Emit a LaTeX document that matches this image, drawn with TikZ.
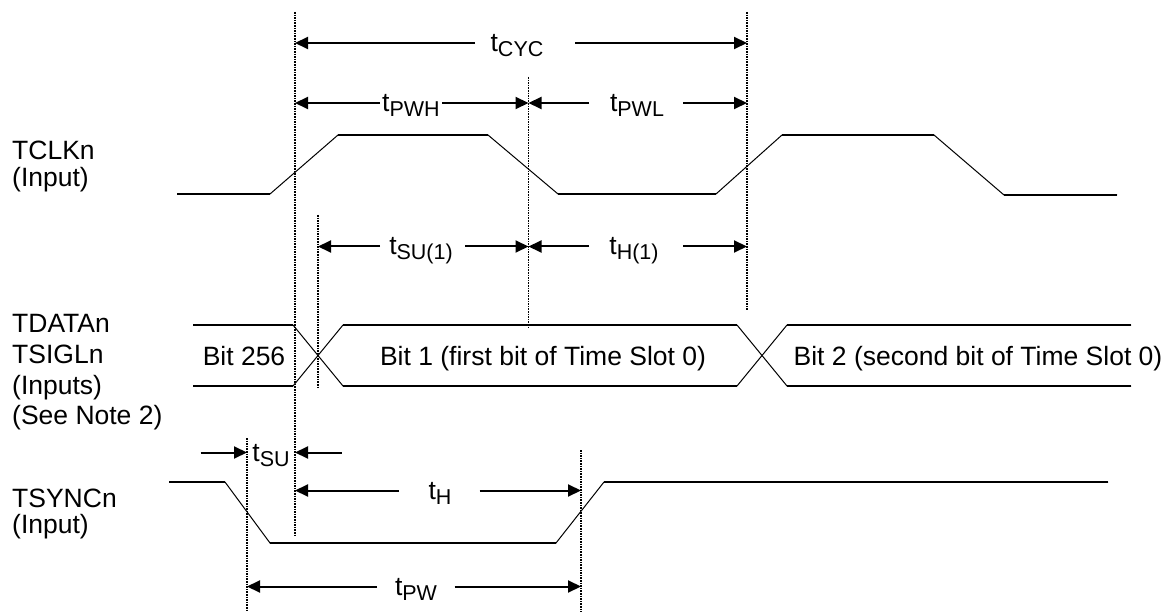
\documentclass[tikz,border=0pt]{standalone}
\usepackage{fontspec}
\setmainfont{Liberation Sans}
\usetikzlibrary{arrows.meta}
\newcommand{\tlab}[1]{t\raisebox{-5pt}{\fontsize{21.5}{22}\selectfont #1}}
\begin{document}
\begin{tikzpicture}[x=1pt,y=-1pt,
  lbl/.style={font=\fontsize{26.5}{30}\selectfont, inner sep=0pt, anchor=base west},
  txt/.style={font=\fontsize{26.5}{30}\selectfont, inner sep=0pt, anchor=base},
  guide/.style={line width=1.4pt, dash pattern=on 1.6pt off 1pt},
  sig/.style={line width=1pt, line join=miter},
  lvl/.style={line width=1.8pt},
  tip/.style={line width=2pt, -{Triangle[length=13pt,width=12pt]}}]
\useasboundingbox (0,0) rectangle (1167,612);
% guide lines
\coordinate (A1) at (295,12);   \coordinate (A2) at (295,535);
\coordinate (B1) at (528.5,77); \coordinate (B2) at (528.5,327);
\coordinate (C1) at (747,12);   \coordinate (C2) at (747,310);
\coordinate (S1) at (318,215);  \coordinate (S2) at (318,388);
\coordinate (P1) at (247,438);  \coordinate (P2) at (247,612);
\coordinate (Q1) at (581,450);  \coordinate (Q2) at (581,612);
\draw[guide] (A1) -- (A2);
\draw[guide] (B1) -- (B2);
\draw[guide] (C1) -- (C2);
\draw[guide] (S1) -- (S2);
\draw[guide] (P1) -- (P2);
\draw[guide] (Q1) -- (Q2);
% left labels
\node[lbl] (l1) at (12,160) {TCLKn};
\node[lbl] (l2) at (12,187) {(Input)};
\node[lbl] (l3) at (12,332) {TDATAn};
\node[lbl] (l4) at (12,363) {TSIGLn};
\node[lbl] (l5) at (12,394) {(Inputs)};
\node[lbl] (l6) at (12,424) {(See Note 2)};
\node[lbl] (l7) at (12,507) {TSYNCn};
\node[lbl] (l8) at (12,533) {(Input)};
% clock
\draw[sig] (177,194) -- (270,194) -- (338,135) -- (488,135) -- (558,194) -- (716,194)
  -- (782,135) -- (934,135) -- (1004,195) -- (1117,195);
\draw[lvl] (177,194) -- (270,194) (338,135) -- (488,135) (558,194) -- (716,194)
  (782,135) -- (934,135) (1004,195) -- (1117,195);
% data
\draw[sig] (193,325) -- (293,325) -- (343,386) -- (737,386) -- (787,325) -- (1131,325);
\draw[sig] (193,386) -- (293,386) -- (343,325) -- (737,325) -- (787,386) -- (1131,386);
\draw[lvl] (193,325) -- (293,325) (343,325) -- (737,325) (787,325) -- (1131,325)
  (193,386) -- (293,386) (343,386) -- (737,386) (787,386) -- (1131,386);
\node[txt] (d0) at (244,365) {Bit 256};
\node[txt] (d1) at (543,365) {Bit 1 (first bit of Time Slot 0)};
\node[txt] (d2) at (978,365) {Bit 2 (second bit of Time Slot 0)};
% tsync
\draw[sig] (169,482) -- (225,482) -- (270,543) -- (556,543) -- (604,482) -- (1108,482);
\draw[lvl] (169,482) -- (225,482) (270,543) -- (556,543) (604,482) -- (1108,482);
% tCYC
\node[txt] (tcyc) at (517,51.5) {\tlab{CYC}};
\coordinate (cycL) at (475,43); \coordinate (cycR) at (575,43);
\draw[tip] (cycL) -- (A1 |- cycL);
\draw[tip] (cycR) -- (C1 |- cycR);
% tPWH / tPWL
\node[txt] (tpwh) at (411,111.5) {\tlab{PWH}};
\coordinate (pwhL) at (380,103); \coordinate (pwhR) at (442,103);
\draw[tip] (pwhL) -- (A1 |- pwhL);
\draw[tip] (pwhR) -- (B1 |- pwhR);
\node[txt] (tpwl) at (637,111.5) {\tlab{PWL}};
\coordinate (pwlL) at (589,103); \coordinate (pwlR) at (683,103);
\draw[tip] (pwlL) -- (B1 |- pwlL);
\draw[tip] (pwlR) -- (C1 |- pwlR);
% tSU(1) / tH(1)
\node[txt] (tsu1) at (421,255) {\tlab{SU(1)}};
\coordinate (su1L) at (380,246.5); \coordinate (su1R) at (465,246.5);
\draw[tip] (su1L) -- (S1 |- su1L);
\draw[tip] (su1R) -- (B1 |- su1R);
\node[txt] (th1) at (634,255) {\tlab{H(1)}};
\coordinate (h1L) at (589,246.5); \coordinate (h1R) at (683,246.5);
\draw[tip] (h1L) -- (B1 |- h1L);
\draw[tip] (h1R) -- (C1 |- h1R);
% tSU
\node[txt] (tsu) at (271,461) {\tlab{SU}};
\coordinate (suL) at (200.5,452.5); \coordinate (suR) at (341.5,452.5);
\draw[tip] (suL) -- (P1 |- suL);
\draw[tip] (suR) -- (A1 |- suR);
% tH
\node[txt] (th) at (440,499) {\tlab{H}};
\coordinate (hL) at (399,490.5); \coordinate (hR) at (479.5,490.5);
\draw[tip] (hL) -- (A1 |- hL);
\draw[tip] (hR) -- (Q1 |- hR);
% tPW
\node[txt] (tpw) at (416,595) {\tlab{PW}};
\coordinate (pwL) at (377,586.5); \coordinate (pwR) at (454.5,586.5);
\draw[tip] (pwL) -- (P1 |- pwL);
\draw[tip] (pwR) -- (Q1 |- pwR);
\end{tikzpicture}
\end{document}
